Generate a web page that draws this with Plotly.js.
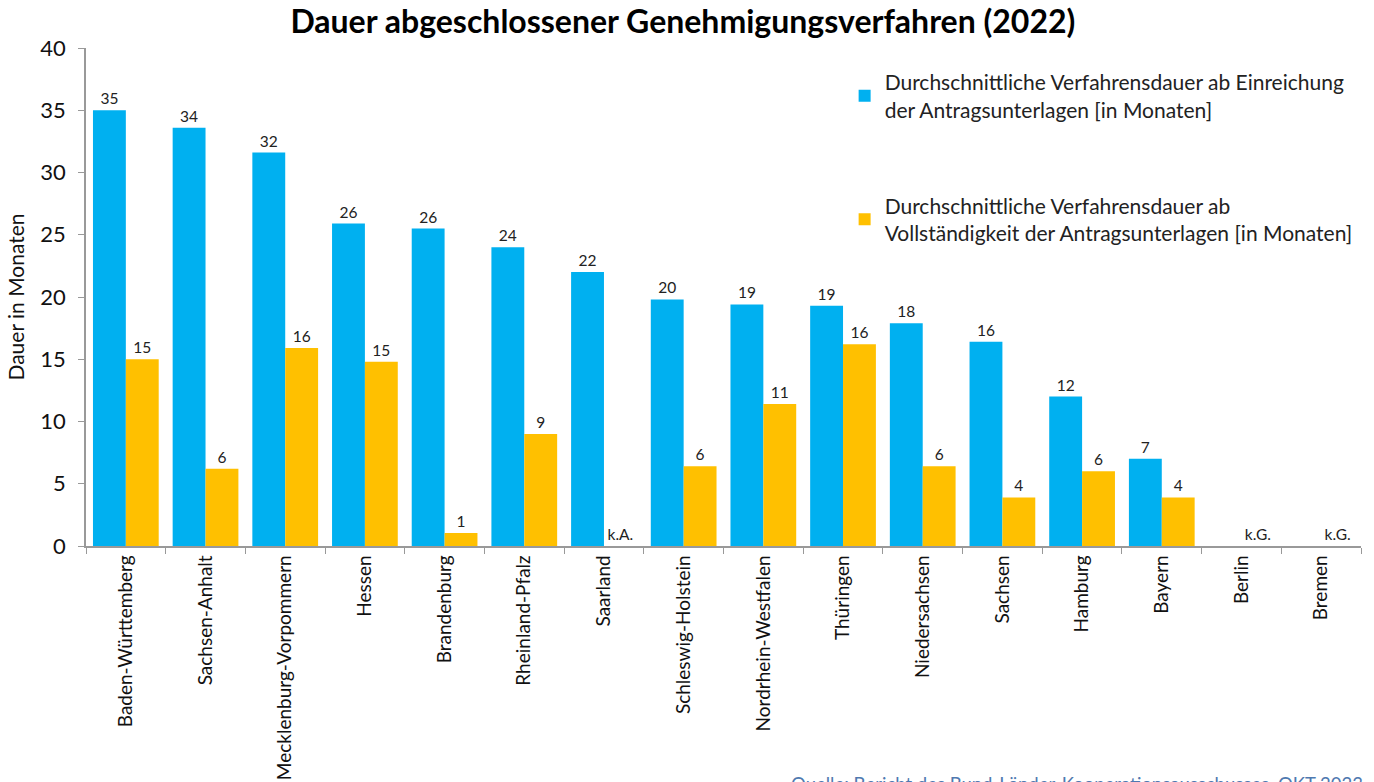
<!DOCTYPE html>
<html>
<head>
<meta charset="utf-8">
<script src="https://cdn.plot.ly/plotly-3.0.1.min.js"></script>
<style>
  html, body { margin: 0; padding: 0; background: #fff; }
  #chart { width: 1374px; height: 782px; }
</style>
</head>
<body>
<div id="chart"></div>
<script>
// Bundesländer, sorted as in the original
const laender = [
    'Baden-Württemberg', 'Sachsen-Anhalt', 'Mecklenburg-Vorpommern', 'Hessen',
    'Brandenburg', 'Rheinland-Pfalz', 'Saarland', 'Schleswig-Holstein',
    'Nordrhein-Westfalen', 'Thüringen', 'Niedersachsen', 'Sachsen',
    'Hamburg', 'Bayern', 'Berlin', 'Bremen'
];

// ab Einreichung (months)
const abEinreichung = [35, 33.6, 31.6, 25.9, 25.5, 24, 22, 19.8, 19.4, 19.3, 17.9, 16.4, 12, 7, null, null];
const labelsEinreichung = ['35', '34', '32', '26', '26', '24', '22', '20', '19', '19', '18', '16', '12', '7', '', ''];

// ab Vollständigkeit (months); 0 where no value (k.A. / k.G.)
const abVollstaendigkeit = [15, 6.2, 15.9, 14.8, 1.05, 9, 0, 6.4, 11.4, 16.2, 6.4, 3.9, 6, 3.9, 0, 0];
const labelsVollstaendigkeit = ['15', '6', '16', '15', '1', '9', 'k.A.', '6', '11', '16', '6', '4', '6', '4', 'k.G.', 'k.G.'];

const FONT = 'Lato, "Open Sans", sans-serif';

const traceBlue = {
    type: 'bar',
    name: 'Durchschnittliche Verfahrensdauer ab Einreichung<br>der Antragsunterlagen [in Monaten]',
    x: laender,
    y: abEinreichung,
    text: labelsEinreichung,
    textposition: 'outside',
    textfont: { family: FONT, size: 15.5, color: '#222' },
    marker: { color: '#00B0F0' },
    cliponaxis: false,
    hoverinfo: 'x+y',
    legendgroup: 'a'
};

const traceOrange = {
    type: 'bar',
    name: 'Durchschnittliche Verfahrensdauer ab<br>Vollständigkeit der Antragsunterlagen [in Monaten]',
    x: laender,
    y: abVollstaendigkeit,
    text: labelsVollstaendigkeit,
    textposition: 'outside',
    textfont: { family: FONT, size: 15.5, color: '#222' },
    marker: { color: '#FFC000' },
    cliponaxis: false,
    hoverinfo: 'x+y',
    legendgroup: 'b'
};

const layout = {
    width: 1374,
    height: 782,
    paper_bgcolor: '#fff',
    plot_bgcolor: '#fff',
    font: { family: FONT, color: '#111' },
    margin: { l: 86, r: 13, t: 48, b: 236 },
    title: {
        text: '<b>Dauer abgeschlossener Genehmigungsverfahren (2022)</b>',
        font: { family: FONT, size: 32, color: '#000' },
        x: 0.497, xanchor: 'center',
        y: 0.972, yanchor: 'middle'
    },
    barmode: 'group',
    bargap: 0.175,
    bargroupgap: 0,
    showlegend: true,
    legend: {
        x: 0.595, xanchor: 'left',
        y: 0.972, yanchor: 'top',
        font: { family: FONT, size: 21, color: '#222' },
        tracegroupgap: 66,
        traceorder: 'grouped',
        itemwidth: 30,
        bgcolor: 'rgba(0,0,0,0)'
    },
    xaxis: {
        type: 'category',
        tickangle: -90,
        tickfont: { family: FONT, size: 19, color: '#111' },
        showline: true,
        linecolor: '#999',
        linewidth: 1.5,
        ticks: 'outside',
        tickson: 'boundaries',
        ticklen: 6,
        tickcolor: '#999',
        showgrid: false,
        zeroline: false
    },
    yaxis: {
        range: [0, 40],
        dtick: 5,
        tickfont: { family: FONT, size: 22, color: '#111' },
        ticklabelstandoff: 8,
        showline: true,
        linecolor: '#999',
        linewidth: 1.5,
        ticks: 'outside',
        ticklen: 6,
        tickcolor: '#999',
        showgrid: false,
        zeroline: false,
        title: { text: 'Dauer in Monaten', font: { family: FONT, size: 21, color: '#111' }, standoff: 10 }
    },
    annotations: [{
        text: 'Quelle: Bericht des Bund-Länder-Kooperationsausschusses, OKT 2023',
        xref: 'paper', yref: 'paper',
        x: 1.003, xanchor: 'right',
        y: -0.452, yanchor: 'top',
        showarrow: false,
        font: { family: FONT, size: 18.5, color: '#4f79b0' }
    }]
};

Plotly.newPlot('chart', [traceBlue, traceOrange], layout, { displayModeBar: false });
</script>
</body>
</html>
